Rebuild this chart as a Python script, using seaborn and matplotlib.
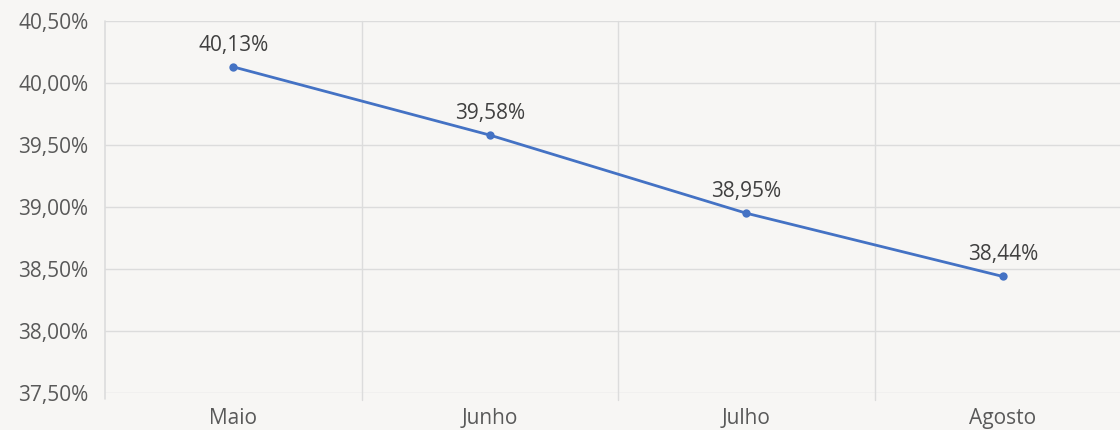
import matplotlib
matplotlib.use("Agg")
import matplotlib.pyplot as plt
import seaborn as sns
import pandas as pd

meses = ["Maio", "Junho", "Julho", "Agosto"]
valores = [40.13, 39.58, 38.95, 38.44]
y_ticks = [37.5, 38.0, 38.5, 39.0, 39.5, 40.0, 40.5]

bg = "#f7f6f4"
sns.set_style("white")
plt.rcParams["font.family"] = ["Open Sans", "DejaVu Sans"]

df = pd.DataFrame({"Mes": meses, "Valor": valores})

fig = plt.figure(figsize=(11.2, 4.3), dpi=100, facecolor=bg)
# plot area runs a bit past the right edge like the original
ax = fig.add_axes([105 / 1120, 37 / 430, 1026 / 1120, 372 / 430])
ax.set_facecolor(bg)

sns.lineplot(data=df, x="Mes", y="Valor", ax=ax, color="#4472c4",
             linewidth=2, marker="o", markersize=6, markeredgewidth=0,
             sort=False)

ax.set_xlim(-0.5, len(meses) - 0.5)
ax.set_ylim(y_ticks[0], y_ticks[-1])
ax.set_yticks(y_ticks)
ax.set_yticklabels([f"{v:.2f}%".replace(".", ",") for v in y_ticks])
ax.set_xticks(range(len(meses)))
ax.set_xticklabels(meses)

for y in y_ticks:
    ax.axhline(y, color="#dcdcdc", linewidth=1, zorder=0)
for b in range(1, len(meses)):
    ax.axvline(b - 0.5, ymin=-0.02, ymax=1, color="#dcdcdc", linewidth=1,
               zorder=0, clip_on=False)
ax.axvline(-0.5, ymin=-0.015, ymax=1, color="#dcdcdc", linewidth=1.2,
           zorder=0, clip_on=False)

for i, v in enumerate(valores):
    ax.annotate(f"{v:.2f}%".replace(".", ","), (i, v), xytext=(0, 8),
                textcoords="offset points", ha="center", va="bottom",
                fontsize=15, color="#404040")

for s in ax.spines.values():
    s.set_visible(False)
ax.tick_params(axis="both", length=0, labelsize=15, colors="#595959")
ax.tick_params(axis="x", pad=11)
ax.tick_params(axis="y", pad=12)
ax.set_xlabel("")
ax.set_ylabel("")

fig.savefig("out.png", dpi=100, facecolor=bg)
